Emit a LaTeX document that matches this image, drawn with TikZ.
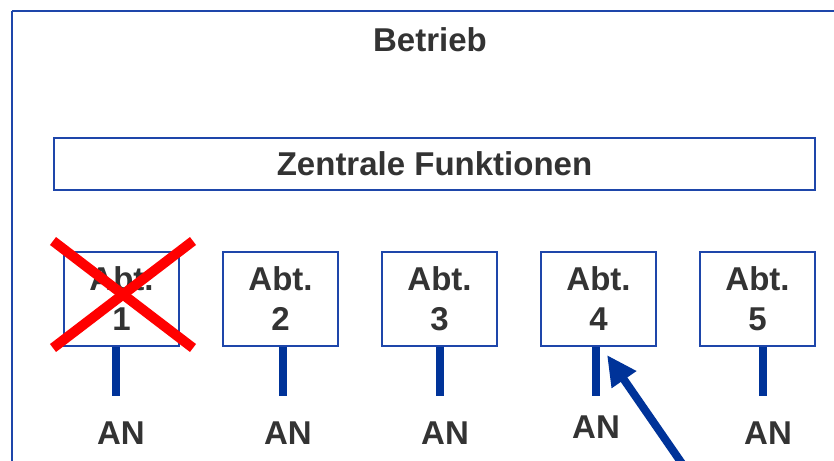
\documentclass[tikz,border=0pt]{standalone}
\usepackage{fontspec}
\setmainfont{Liberation Sans}
\usepackage{xcolor}
\definecolor{frameblue}{RGB}{30,70,170}
\definecolor{stemblue}{RGB}{0,51,153}
\definecolor{textgray}{RGB}{51,51,51}
\definecolor{crossred}{RGB}{255,0,0}
\usetikzlibrary{arrows.meta,positioning}

\begin{document}
\begin{tikzpicture}[x=1pt,y=-1pt,
  txt/.style={font=\fontsize{33}{40}\selectfont\bfseries,text=textgray,align=center},
  abt/.style={txt,draw=frameblue,line width=1.3pt,fill=white,
              minimum width=115pt,minimum height=94pt,inner sep=0pt},
  stem/.style={draw=stemblue,line width=8pt},
  pointer/.style={draw=stemblue,line width=8pt,-{Triangle[length=30pt,width=28pt]}},
  cross/.style={draw=crossred,line width=10pt}
]
  \useasboundingbox (0,0) rectangle (834,460);
  % Betrieb frame
  \draw[frameblue,line width=1.5pt] (12,11) -- (850,11)
    (12,11) -- (12,480);
  \node[txt] (betrieb) at (430,40) {Betrieb};
  % Zentrale Funktionen
  \node[abt,minimum width=761pt,minimum height=52pt] (zentral) at (434.5,164)
    {Zentrale Funktionen};
  % Abteilungen
  \node[abt] (abt1) at (121.5,299) {Abt.\\1};
  \node[abt] (abt2) at (280.5,299) {Abt.\\2};
  \node[abt] (abt3) at (439.5,299) {Abt.\\3};
  \node[abt] (abt4) at (598.5,299) {Abt.\\4};
  \node[abt] (abt5) at (757.5,299) {Abt.\\5};
  % Arbeitnehmer
  \node[txt] (an1) at (121,433) {AN};
  \node[txt] (an2) at (288,433) {AN};
  \node[txt] (an3) at (445,433) {AN};
  \node[txt] (an4) at (596,427) {AN};
  \node[txt] (an5) at (768,433) {AN};
  % stems
  \coordinate (s1) at (116,396);
  \coordinate (s2) at (283,396);
  \coordinate (s3) at (440,396);
  \coordinate (s4) at (596,396);
  \coordinate (s5) at (763,396);
  \draw[stem] (abt1.south -| s1) -- (s1);
  \draw[stem] (abt2.south -| s2) -- (s2);
  \draw[stem] (abt3.south -| s3) -- (s3);
  \draw[stem] (abt4.south -| s4) -- (s4);
  \draw[stem] (abt5.south -| s5) -- (s5);
  % Abt. 1 crossed out
  \draw[cross] (53,241) -- (193,348);
  \draw[cross] (53,348) -- (193,241);
  % pointer to Abt. 4
  \coordinate (ptail) at (692,478);
  \coordinate (ptip) at (607,355);
  \draw[pointer] (ptail) -- (ptip);
\end{tikzpicture}
\end{document}
